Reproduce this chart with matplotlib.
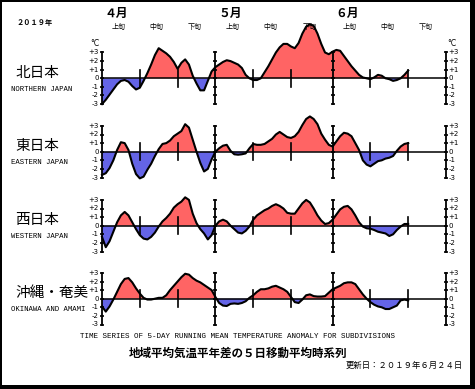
import matplotlib
matplotlib.use("Agg")
import matplotlib.pyplot as plt
from matplotlib.patches import Rectangle
from matplotlib.transforms import blended_transform_factory

plt.rcParams['font.family'] = ['Noto Sans CJK JP', 'DejaVu Sans']

# 5-day running mean temperature anomaly (deg C), daily from Apr 1 to Jun 21, 2019
north = [-3.0, -2.5, -1.9, -1.3, -0.7, -0.3, -0.2, -0.4, -0.9, -1.3,
         -1.1, -0.3, 0.6, 1.6, 2.7, 3.5, 3.2, 2.9, 2.5, 1.9,
         1.1, 1.8, 2.2, 1.6, 0.3, -0.6, -1.4, -1.4, -0.3, 0.8,
         1.3, 1.6, 1.9, 2.1, 2.0, 1.8, 1.6, 1.2, 0.4, 0.0,
         -0.2, -0.2, 0.0, 0.7, 1.4, 2.2, 3.0, 3.6, 4.0, 4.0,
         3.7, 3.5, 4.1, 5.2, 6.0, 6.3, 6.1, 5.2, 4.0, 3.0,
         2.8, 3.1, 3.3, 3.2, 2.6, 2.0, 1.4, 0.9, 0.4, 0.1,
         0.0, -0.1, 0.1, 0.4, 0.3, 0.0, -0.1, -0.3, -0.2, 0.0,
         0.4, 0.9]
east = [-2.7, -2.5, -1.9, -1.0, 0.2, 1.1, 1.0, 0.2, -1.4, -2.6,
        -3.1, -2.9, -2.1, -1.4, -0.5, 0.3, 0.9, 1.0, 1.3, 1.8,
        2.1, 2.4, 3.2, 2.8, 1.4, 0.0, -1.3, -2.3, -2.0, -0.9,
        0.0, 0.4, 0.7, 0.8, 0.1, -0.3, -0.35, -0.3, -0.2, 0.4,
        0.9, 0.8, 0.8, 0.9, 1.2, 1.5, 2.0, 2.3, 2.0, 1.7,
        1.6, 1.8, 2.3, 3.1, 3.8, 4.1, 3.8, 3.2, 2.1, 1.4,
        0.8, 0.6, 1.2, 1.8, 2.2, 2.1, 1.8, 1.0, 0.2, -1.0,
        -1.5, -1.7, -1.4, -1.1, -1.0, -0.8, -0.7, -0.5, 0.1, 0.6,
        0.9, 1.0]
west = [-1.3, -2.5, -1.8, -0.7, 0.4, 1.2, 1.6, 1.2, 0.4, -0.4,
        -1.1, -1.5, -1.6, -1.3, -0.8, -0.1, 0.5, 0.9, 1.4, 2.1,
        2.5, 2.8, 3.3, 3.0, 1.4, 0.3, -0.4, -0.9, -1.6, -1.1,
        0.0, 0.5, 0.7, 0.5, 0.0, -0.4, -0.8, -0.9, -0.6, -0.1,
        0.7, 1.2, 1.5, 1.8, 2.0, 2.3, 2.5, 2.3, 2.0, 1.5,
        1.4, 1.4, 2.0, 2.6, 3.0, 2.7, 2.0, 1.2, 0.6, 0.2,
        0.3, 0.7, 1.3, 1.9, 2.2, 2.3, 1.9, 1.2, 0.4, -0.1,
        -0.3, -0.35, -0.5, -0.7, -0.8, -0.9, -1.2, -1.0, -0.5, -0.1,
        0.2, 0.2]
okinawa = [-0.9, -1.5, -0.9, -0.1, 0.8, 1.7, 2.3, 2.4, 1.9, 1.2,
           0.6, 0.1, -0.1, -0.1, 0.0, 0.1, 0.1, 0.4, 1.0, 1.5,
           2.0, 2.5, 2.9, 2.8, 2.4, 2.1, 1.9, 1.6, 1.3, 1.0,
           0.2, -0.5, -0.8, -0.85, -0.6, -0.55, -0.6, -0.5, -0.3, 0.1,
           0.4, 0.8, 1.1, 1.1, 1.2, 1.4, 1.5, 1.3, 1.1, 0.8,
           0.2, -0.4, -0.5, -0.1, 0.4, 0.5, 0.3, 0.25, 0.25, 0.3,
           0.7, 1.1, 1.3, 1.5, 1.8, 1.9, 1.9, 1.7, 1.1, 0.5,
           0.0, -0.4, -0.7, -0.9, -1.0, -1.2, -1.2, -1.0, -0.8, -0.2,
           -0.1, -0.2]

series = [north, east, west, okinawa]
names_jp = ['北日本', '東日本', '西日本', '沖縄・奄美']
names_en = ['NORTHERN JAPAN', 'EASTERN JAPAN', 'WESTERN JAPAN', 'OKINAWA AND AMAMI']

month_labels = ['４月', '５月', '６月']
month_starts = [0, 30, 61]
decade_labels = ['上旬', '中旬', '下旬']
month_axes = [0, 30, 61, 91]
decade_ticks = [10, 20, 40, 50, 71, 81]
tick_vals = [3, 2, 1, 0, -1, -2, -3]
tick_text = ['+3', '+2', '+1', '0', '-1', '-2', '-3']

RED = '#ff6464'
BLUE = '#6464e6'

W, H = 475, 389
X0, X1 = 102, 446
PX_DEG = 8.6
zero_y = [78.3, 151.7, 225.7, 298.7]


def fx(px):
    return px / W


def fy(py):
    return 1 - py / H


fig = plt.figure(figsize=(W / 100, H / 100), dpi=100, facecolor='black')
fig.add_artist(Rectangle((fx(2), fy(385)), fx(470) - fx(2), fy(2) - fy(385),
                         transform=fig.transFigure, facecolor='white',
                         edgecolor='none', zorder=-10))

days = list(range(len(north)))
axes = []
for i, (vals, y0) in enumerate(zip(series, zero_y)):
    half = 3.5 * PX_DEG
    ax = fig.add_axes([fx(X0), fy(y0 + half), (X1 - X0) / W, 2 * half / H])
    ax.set_xlim(0, 91)
    ax.set_ylim(-3.5, 3.5)
    ax.axis('off')
    axes.append(ax)

    ax.fill_between(days, vals, 0, where=[v >= 0 for v in vals], interpolate=True,
                    color=RED, lw=0, clip_on=False)
    ax.fill_between(days, vals, 0, where=[v <= 0 for v in vals], interpolate=True,
                    color=BLUE, lw=0, clip_on=False)
    ax.plot(days, vals, color='black', lw=1.5, clip_on=False, zorder=4)
    ax.plot([0, 91], [0, 0], color='black', lw=1.1, clip_on=False, zorder=3)

    # month axes with degree ticks
    for m in month_axes:
        ax.plot([m, m], [-3, 3], color='black', lw=1.3, clip_on=False, zorder=5)
        ax.plot([m] * len(tick_vals), tick_vals, ls='none', marker='_',
                ms=3.5, mew=1.2, color='black', clip_on=False, zorder=5)
    for d in decade_ticks:
        ax.plot([d, d], [-1, 1], color='black', lw=1.2, clip_on=False, zorder=5)

    for v, t in zip(tick_vals, tick_text):
        ax.text(-0.9, v, t, ha='right', va='center', fontsize=5,
                family='DejaVu Sans')
        ax.text(91.7, v, t, ha='left', va='center', fontsize=5,
                family='DejaVu Sans')

    fig.text(fx(15), fy(y0 - 5.5), names_jp[i], ha='left', va='center',
             fontsize=10.5)
    fig.text(fx(11), fy(y0 + 11), names_en[i], ha='left', va='center',
             fontsize=5.2, family='Liberation Mono')

axes[0].text(-0.6, 4.1, '°C', ha='right', va='center', fontsize=5.5,
             family='DejaVu Sans')
axes[0].text(91.3, 4.1, '°C', ha='left', va='center', fontsize=5.5,
             family='DejaVu Sans')

# month and decade headers
tr = blended_transform_factory(axes[0].transData, fig.transFigure)
for lab, s in zip(month_labels, month_starts):
    axes[0].text(s + 3.9, fy(13), lab, transform=tr, ha='center', va='center',
                 fontsize=8.5, fontweight='bold')
    for k, dl in enumerate(decade_labels):
        axes[0].text(s + 4.5 + 10 * k + (0.5 if (s == 30 and k == 2) else 0),
                     fy(27), dl, transform=tr, ha='center', va='center',
                     fontsize=5)

fig.text(fx(35), fy(23), '２０１９年', ha='center', va='center', fontsize=5.2,
         fontweight='bold')

fig.text(fx(237), fy(336),
         'TIME SERIES OF 5-DAY RUNNING MEAN TEMPERATURE ANOMALY FOR SUBDIVISIONS',
         ha='center', va='center', fontsize=5.4, family='Liberation Mono')
fig.text(fx(238), fy(353), '地域平均気温平年差の５日移動平均時系列', ha='center',
         va='center', fontsize=8.3, fontweight='bold')
fig.text(fx(463), fy(365.5), '更新日：２０１９年６月２４日', ha='right',
         va='center', fontsize=6)

fig.savefig('out.png', dpi=100)
